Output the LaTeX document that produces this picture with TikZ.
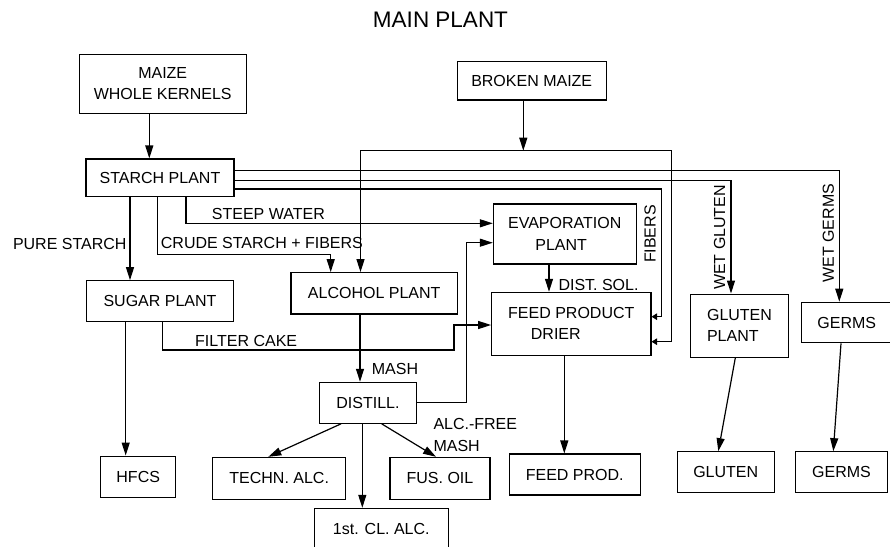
\documentclass[tikz,border=0pt]{standalone}
\usepackage{fontspec}
\setmainfont{Liberation Sans}
\usetikzlibrary{arrows.meta, positioning}
\newcommand{\labfont}{\fontsize{16}{21.3}\selectfont}
\newcommand{\headfont}{\fontsize{22.5}{27}\selectfont}

\begin{document}
\begin{tikzpicture}[x=1pt, y=-1pt,
  unit/.style={rectangle, draw, line width=1.1pt, inner sep=0pt, align=center, font=\labfont},
  flow/.style={font=\labfont, inner sep=0pt},
  arr/.style={-{Triangle[length=13pt, width=8pt]}, line width=1.2pt},
  arrsmall/.style={-{Triangle[length=5.5pt, width=6.5pt]}, line width=1.2pt}
]
\clip (0,0) rectangle (890,546);
\node[font=\headfont, inner sep=0pt] (title) at (440.5,19.7) {MAIN PLANT};
\node[unit, minimum width=166.7, minimum height=59.3] (maize) at (162.7,83.7) {MAIZE\\WHOLE KERNELS};
\node[unit, minimum width=148.7, minimum height=38.3] (broken) at (531.7,80.8) {BROKEN MAIZE};
\node[unit, minimum width=148, minimum height=37.7] (starch) at (160,177.8) {STARCH PLANT};
\node[unit, minimum width=142.7, minimum height=60, align=left] (evap) at (564.7,234) {EVAPORATION\\\hspace*{27.3pt}PLANT};
\node[unit, minimum width=146.6, minimum height=41] (sugar) at (160,301.2) {SUGAR PLANT};
\node[unit, minimum width=166.5, minimum height=41.3] (alcohol) at (374.2,293.3) {ALCOHOL PLANT};
\node[unit, minimum width=159.3, minimum height=62.7, align=left] (feed) at (571.3,323.7) {FEED PRODUCT\\\hspace*{22.7pt}DRIER};
\node[unit, minimum width=97.6, minimum height=63.3, align=left] (glutenplant) at (739.5,325.7) {GLUTEN\\PLANT};
\node[unit, minimum width=90.5, minimum height=40.5] (germs) at (846.75,322.5) {GERMS};
\node[unit, minimum width=97.4, minimum height=41] (distill) at (368,402.8) {DISTILL.};
\node[unit, minimum width=75, minimum height=41.3] (hfcs) at (138.2,476.7) {HFCS};
\node[unit, minimum width=133, minimum height=41.7] (techn) at (279.2,478.2) {TECHN. ALC.};
\node[unit, minimum width=100, minimum height=41.7] (fusoil) at (440,478.2) {FUS. OIL};
\node[unit, minimum width=134, minimum height=41.7] (firstcl) at (381.3,529.2) {1st. CL. ALC.};
\node[unit, minimum width=130.7, minimum height=41] (feedprod) at (574.7,474.5) {FEED PROD.};
\node[unit, minimum width=97.3, minimum height=41] (gluten) at (725.7,472.2) {GLUTEN};
\node[unit, minimum width=91.6, minimum height=41] (germsout) at (841.5,472.2) {GERMS};
\coordinate (bmL) at (360.5,150.7);
\coordinate (bmR) at (671.7,150.7);
\coordinate (fcorner) at (454,350);
\draw[arr] ([xshift=-13.4pt]maize.south) -- ([xshift=-13.4pt]maize.south |- starch.north);
\draw[arr] ([xshift=-8.4pt]broken.south) -- ([xshift=-8.4pt]broken.south |- bmL);
\draw[arr] (bmR) -- (bmL) -- (bmL |- alcohol.north);
\draw[arrsmall] (bmR) |- ([yshift=-18pt]feed.east);
\draw[arr] ([yshift=7.1pt]starch.east) -| ([xshift=-7.45pt]germs.north);
\draw[arr] ([yshift=-2.9pt]starch.east) -| ([xshift=-8.5pt]glutenplant.north);
\draw[arrsmall] ([yshift=-11.2pt]starch.east) -| ([xshift=9.7pt, yshift=7pt]feed.east) -- ([yshift=7pt]feed.east);
\draw[arr] ([xshift=-30pt]starch.south) -- ([xshift=-30pt]starch.south |- sugar.north);
\draw[arr] ([xshift=-2.3pt]starch.south) |- ([xshift=-43.5pt, yshift=17.7pt]alcohol.north) -- ([xshift=-43.5pt]alcohol.north);
\draw[arr] ([xshift=26pt]starch.south) |- ([yshift=10.7pt]evap.west);
\draw[arr] ([xshift=-15.7pt]evap.south) -- ([xshift=-15.7pt]evap.south |- feed.north);
\draw[arr] ([xshift=-34.3pt]sugar.south) -- ([xshift=-34.3pt]sugar.south |- hfcs.north);
\draw[arr] ([xshift=2.7pt]sugar.south) |- (fcorner) |- ([yshift=-1.3pt]feed.west);
\draw[arr] ([xshift=-14.2pt]alcohol.south) -- ([xshift=-14.2pt]alcohol.south |- distill.north);
\draw[arr] (distill.east) -| ([xshift=-26.6pt, yshift=-8.7pt]evap.west) -- ([yshift=-8.7pt]evap.west);
\draw[arr] ([xshift=-27pt]distill.south) -- ([xshift=-10.9pt]techn.north);
\draw[arr] ([xshift=-5.7pt]distill.south) -- ([xshift=-5.7pt]distill.south |- firstcl.north);
\draw[arr] ([xshift=13.7pt]distill.south) -- ([xshift=-4pt]fusoil.north);
\draw[arr] ([xshift=-7pt]feed.south) -- ([xshift=-7pt]feed.south |- feedprod.north);
\draw[arr] ([xshift=-4.2pt]glutenplant.south) -- ([xshift=-7.4pt]gluten.north);
\draw[arr] ([xshift=-5.75pt]germs.south) -- ([xshift=-8.2pt]germsout.north);
\node[flow, anchor=east] (lpure) at (126.7,244) {PURE STARCH};
\node[flow, anchor=west] (lcrude) at (160.7,243.3) {CRUDE STARCH + FIBERS};
\node[flow, anchor=west] (lsteep) at (211.7,214) {STEEP WATER};
\node[flow, anchor=west] (lfilter) at (195,340.7) {FILTER CAKE};
\node[flow, anchor=west] (lmash) at (371.7,369.3) {MASH};
\node[flow, anchor=west] (ldist) at (558.3,285) {DIST. SOL.};
\node[flow, anchor=west, align=left] (lfree) at (433.3,435) {ALC.-FREE\\MASH};
\node[flow, rotate=90] (lfibers) at (650,234) {FIBERS};
\node[flow, rotate=90] (lwetgluten) at (719.5,237.5) {WET GLUTEN};
\node[flow, rotate=90] (lwetgerms) at (828.3,233.3) {WET GERMS};
\end{tikzpicture}
\end{document}
